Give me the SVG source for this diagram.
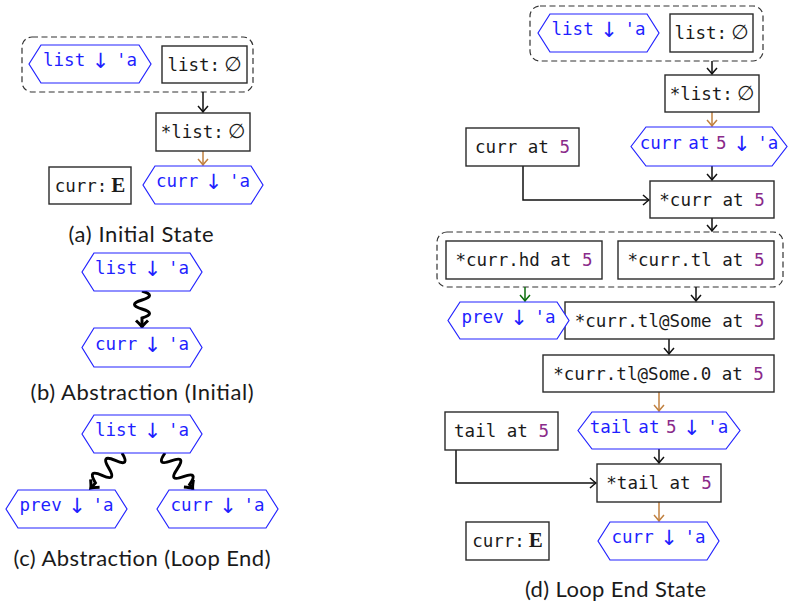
<svg xmlns="http://www.w3.org/2000/svg" width="788" height="607" viewBox="0 0 788 607">
<style>
.bg{fill:#fff}
.box{fill:#fff;stroke:#2a2a2a;stroke-width:1.4}
.hex{fill:#fff;stroke:#2323ff;stroke-width:1.2}
.grp{fill:none;stroke:#333;stroke-width:1.2;stroke-dasharray:6,3.5}
.t{font-family:"DejaVu Sans Mono","Liberation Mono",monospace;font-size:17.5px;fill:#1a1a1a;text-anchor:middle}
.h{font-family:"DejaVu Sans Mono","Liberation Mono",monospace;font-size:17.5px;fill:#1f1fff;text-anchor:middle;word-spacing:-4px}
.n{fill:#8a2b8a}
.ar{font-family:"DejaVu Sans",sans-serif;font-size:21px}
.em{font-family:"DejaVu Sans",sans-serif;font-size:20px}
.e{font-family:"Liberation Serif",serif;font-weight:bold;font-size:21px}
.cap{font-family:Lato,"Open Sans",sans-serif;font-size:22px;fill:#1a1a1a;text-anchor:middle}
.c{fill:none;stroke:#111;stroke-width:1.5}
.cb{fill:none;stroke:#c0803f;stroke-width:1.5}
.cg{fill:none;stroke:#0b6e0b;stroke-width:1.5}
.sq{fill:none;stroke:#000;stroke-width:3}
</style>
<defs>
<marker id="mk" markerUnits="userSpaceOnUse" markerWidth="14" markerHeight="14" refX="0" refY="0" viewBox="-7 -7 14 14" orient="auto" overflow="visible"><path d="M-6,-5 Q-1.5,-1 0,0 Q-1.5,1 -6,5" fill="none" stroke="#111" stroke-width="1.5"/></marker>
<marker id="mkb" markerUnits="userSpaceOnUse" markerWidth="14" markerHeight="14" refX="0" refY="0" viewBox="-7 -7 14 14" orient="auto" overflow="visible"><path d="M-6,-5 Q-1.5,-1 0,0 Q-1.5,1 -6,5" fill="none" stroke="#c0803f" stroke-width="1.5"/></marker>
<marker id="mkg" markerUnits="userSpaceOnUse" markerWidth="14" markerHeight="14" refX="0" refY="0" viewBox="-7 -7 14 14" orient="auto" overflow="visible"><path d="M-6,-5 Q-1.5,-1 0,0 Q-1.5,1 -6,5" fill="none" stroke="#0b6e0b" stroke-width="1.5"/></marker>
<marker id="mks" markerUnits="userSpaceOnUse" markerWidth="16" markerHeight="16" refX="0" refY="0" viewBox="-8 -8 16 16" orient="auto" overflow="visible"><path d="M-6.5,-6 Q-2,-1.2 0,0 Q-2,1.2 -6.5,6" fill="none" stroke="#000" stroke-width="3"/></marker>
</defs>
<rect class="bg" x="0" y="0" width="788" height="607"/>

<g id="groups">
<rect id="grp-a" class="grp" x="22" y="37" width="231" height="55" rx="10"/>
<rect id="grp-d1" class="grp" x="530" y="6" width="233" height="55" rx="10"/>
<rect id="grp-d2" class="grp" x="437" y="232" width="346" height="55" rx="10"/>
</g>

<g id="connectors">
<path class="c" d="M203,92 V112" marker-end="url(#mk)"/>
<path class="cb" d="M203,151 V165" marker-end="url(#mkb)"/>
<path class="sq" transform="translate(142,291) rotate(90)" d="M0,0 q4.5,-15 9,0 t9,0 t9,0 L36,0" marker-end="url(#mks)"/>
<path class="sq" transform="translate(122,453) rotate(131.6)" d="M0,0 q5,-16 10,0 t10,0 t10,0 t10,0 L47,0" marker-end="url(#mks)"/>
<path class="sq" transform="translate(165,453) rotate(52.1)" d="M0,0 q5,16 10,0 t10,0 t10,0 t10,0 L45,0" marker-end="url(#mks)"/>
<path class="c" d="M712,61 V74" marker-end="url(#mk)"/>
<path class="cb" d="M712,112 V126" marker-end="url(#mkb)"/>
<path class="c" d="M712,166 V180" marker-end="url(#mk)"/>
<path class="c" d="M523,166 V200 H649" marker-end="url(#mk)"/>
<path class="c" d="M712,218 V231" marker-end="url(#mk)"/>
<path class="cg" d="M525,287 V301" marker-end="url(#mkg)"/>
<path class="c" d="M696,287 V301" marker-end="url(#mk)"/>
<path class="c" d="M669,339 V354" marker-end="url(#mk)"/>
<path class="cb" d="M659,392 V411" marker-end="url(#mkb)"/>
<path class="c" d="M659,449 V463" marker-end="url(#mk)"/>
<path class="c" d="M456,450 V483 H596" marker-end="url(#mk)"/>
<path class="cb" d="M659,502 V521" marker-end="url(#mkb)"/>
</g>

<!-- Panel (a) -->
<g id="a-list-hex"><polygon class="hex" points="29,64 41,45 139,45 151,64 139,83 41,83"/><text class="h" x="90" y="66">list <tspan class="ar" dy="2">↓</tspan> <tspan dy="-2">'a</tspan></text></g>
<g id="a-list-box"><rect class="box" x="162" y="46" width="85" height="37"/><text class="t" x="204.5" y="71">list:<tspan class="em" dx="4">∅</tspan></text></g>
<g id="a-starlist"><rect class="box" x="156" y="113" width="94" height="38"/><text class="t" x="203" y="138">*list:<tspan class="em" dx="4">∅</tspan></text></g>
<g id="a-curr-hex"><polygon class="hex" points="143,185 155,166 251,166 263,185 251,204 155,204"/><text class="h" x="203" y="187">curr <tspan class="ar" dy="2">↓</tspan> <tspan dy="-2">'a</tspan></text></g>
<g id="a-curr-box"><rect class="box" x="49" y="167" width="82" height="37"/><text class="t" x="90" y="192">curr:<tspan class="e" dx="4">E</tspan></text></g>
<text class="cap" x="141" y="242" textLength="145" lengthAdjust="spacing">(a) Initial State</text>

<!-- Panel (b) -->
<g id="b-list-hex"><polygon class="hex" points="82,272 94,253 190,253 202,272 190,291 94,291"/><text class="h" x="142" y="274">list <tspan class="ar" dy="2">↓</tspan> <tspan dy="-2">'a</tspan></text></g>
<g id="b-curr-hex"><polygon class="hex" points="82,347.5 94,328 190,328 202,347.5 190,367 94,367"/><text class="h" x="142" y="350">curr <tspan class="ar" dy="2">↓</tspan> <tspan dy="-2">'a</tspan></text></g>
<text class="cap" x="142" y="400" textLength="223" lengthAdjust="spacing">(b) Abstraction (Initial)</text>

<!-- Panel (c) -->
<g id="c-list-hex"><polygon class="hex" points="82,434 94,415 190,415 202,434 190,453 94,453"/><text class="h" x="142" y="436">list <tspan class="ar" dy="2">↓</tspan> <tspan dy="-2">'a</tspan></text></g>
<g id="c-prev-hex"><polygon class="hex" points="6,509 18,490 115,490 127,509 115,528 18,528"/><text class="h" x="66.5" y="511">prev <tspan class="ar" dy="2">↓</tspan> <tspan dy="-2">'a</tspan></text></g>
<g id="c-curr-hex"><polygon class="hex" points="157,509 169,490 266,490 278,509 266,528 169,528"/><text class="h" x="217.5" y="511">curr <tspan class="ar" dy="2">↓</tspan> <tspan dy="-2">'a</tspan></text></g>
<text class="cap" x="142" y="566" textLength="257" lengthAdjust="spacing">(c) Abstraction (Loop End)</text>

<!-- Panel (d) -->
<g id="d-list-hex"><polygon class="hex" points="538,33 550,14 647,14 659,33 647,52 550,52"/><text class="h" x="598.5" y="35">list <tspan class="ar" dy="2">↓</tspan> <tspan dy="-2">'a</tspan></text></g>
<g id="d-list-box"><rect class="box" x="670" y="14" width="83" height="38"/><text class="t" x="711.5" y="39">list:<tspan class="em" dx="4">∅</tspan></text></g>
<g id="d-starlist"><rect class="box" x="665" y="75" width="94" height="37"/><text class="t" x="712" y="99.5">*list:<tspan class="em" dx="4">∅</tspan></text></g>
<g id="d-currat5-hex"><polygon class="hex" points="631,146.5 646,127 772,127 787,146.5 772,166 646,166"/><text class="h" x="709" y="148.5">curr at <tspan class="n">5</tspan> <tspan class="ar" dy="2">↓</tspan> <tspan dy="-2">'a</tspan></text></g>
<g id="d-currat5-box"><rect class="box" x="466" y="128" width="113" height="38"/><text class="t" x="522.5" y="153">curr at <tspan class="n">5</tspan></text></g>
<g id="d-starcurr"><rect class="box" x="650" y="181" width="124" height="37"/><text class="t" x="712" y="205.5">*curr at <tspan class="n">5</tspan></text></g>
<g id="d-currhd"><rect class="box" x="446" y="241" width="156" height="38"/><text class="t" x="524" y="266">*curr.hd at <tspan class="n">5</tspan></text></g>
<g id="d-currtl"><rect class="box" x="618" y="241" width="156" height="38"/><text class="t" x="696" y="266">*curr.tl at <tspan class="n">5</tspan></text></g>
<g id="d-tlsome"><rect class="box" x="565" y="302" width="209" height="37"/><text class="t" x="669.5" y="326.5">*curr.tl@Some at <tspan class="n">5</tspan></text></g>
<g id="d-prev-hex"><polygon class="hex" points="448,320.5 460,302 557,302 569,320.5 557,339 460,339"/><text class="h" x="508.5" y="322.5">prev <tspan class="ar" dy="2">↓</tspan> <tspan dy="-2">'a</tspan></text></g>
<g id="d-tlsome0"><rect class="box" x="543" y="355" width="231" height="37"/><text class="t" x="658.5" y="379.5">*curr.tl@Some.0 at <tspan class="n">5</tspan></text></g>
<g id="d-tail-hex"><polygon class="hex" points="578,430.5 592,412 726,412 740,430.5 726,449 592,449"/><text class="h" x="659" y="432.5">tail at <tspan class="n">5</tspan> <tspan class="ar" dy="2">↓</tspan> <tspan dy="-2">'a</tspan></text></g>
<g id="d-tail-box"><rect class="box" x="445" y="412" width="113" height="38"/><text class="t" x="501.5" y="437">tail at <tspan class="n">5</tspan></text></g>
<g id="d-startail"><rect class="box" x="597" y="464" width="124" height="38"/><text class="t" x="659" y="489">*tail at <tspan class="n">5</tspan></text></g>
<g id="d-curr-hex"><polygon class="hex" points="598,541 610,522 707,522 719,541 707,560 610,560"/><text class="h" x="658.5" y="543">curr <tspan class="ar" dy="2">↓</tspan> <tspan dy="-2">'a</tspan></text></g>
<g id="d-curr-box"><rect class="box" x="466" y="522" width="83" height="38"/><text class="t" x="507.5" y="547">curr:<tspan class="e" dx="4">E</tspan></text></g>
<text class="cap" x="615.5" y="597" textLength="181" lengthAdjust="spacing">(d) Loop End State</text>
</svg>
